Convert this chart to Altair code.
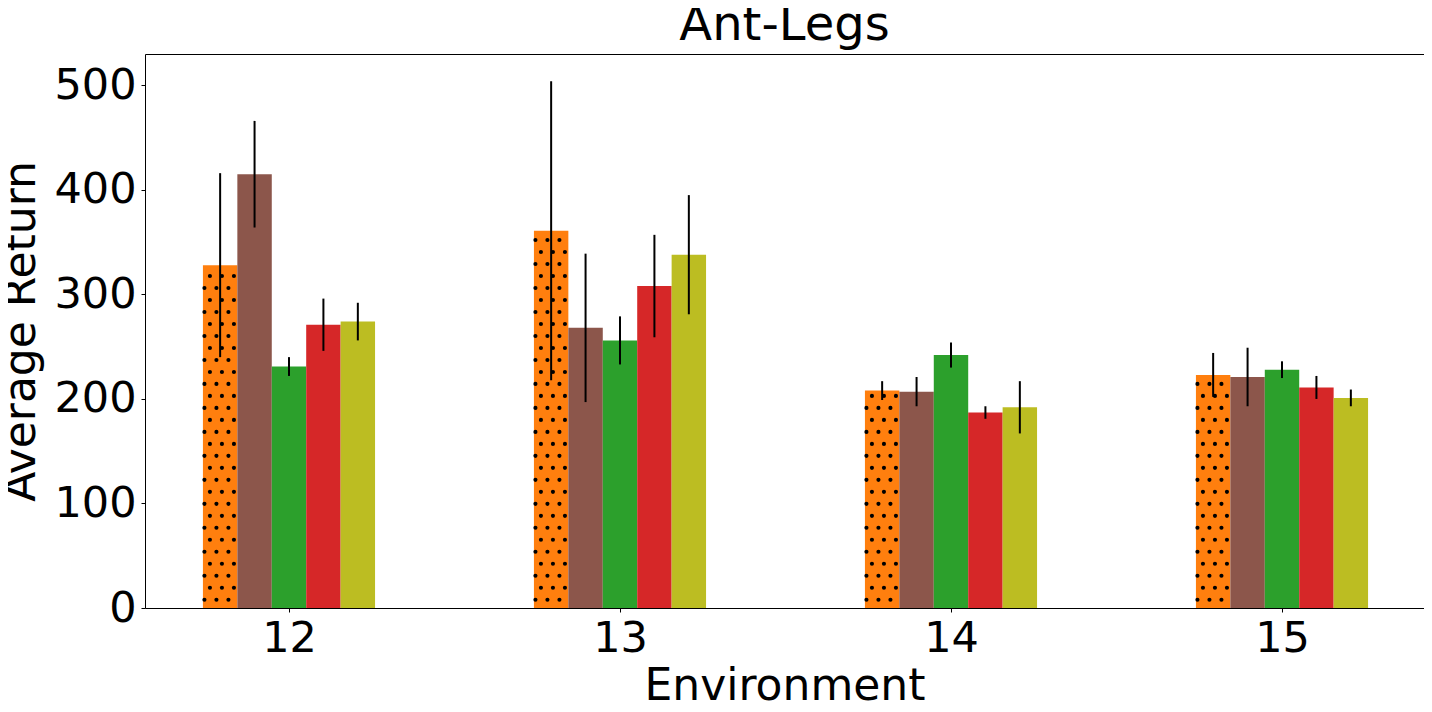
import altair as alt
import pandas as pd

envs = [12, 13, 14, 15]
methods = ["Method A", "Method B", "Method C", "Method D", "Method E"]
colors = ["#ff7f0e", "#8c564b", "#2ca02c", "#d62728", "#bcbd22"]

means = {
    "Method A": [328, 361, 208, 223],
    "Method B": [415, 268, 207, 221],
    "Method C": [231, 256, 242, 228],
    "Method D": [271, 308, 187, 211],
    "Method E": [274, 338, 192, 201],
}
errs = {
    "Method A": [88, 143, 9, 21],
    "Method B": [51, 71, 14, 28],
    "Method C": [9, 23, 12, 8],
    "Method D": [25, 49, 6, 11],
    "Method E": [18, 57, 25, 8],
}

rows = []
for i, m in enumerate(methods):
    for j, e in enumerate(envs):
        rows.append({"env": e, "method": m, "idx": i, "value": means[m][j], "err": errs[m][j]})
df = pd.DataFrame(rows)

BW = 0.104
base = alt.Chart(df).transform_calculate(
    xc=f"datum.env + (datum.idx - 2) * {BW}",
    x0=f"datum.env + (datum.idx - 2) * {BW} - {BW / 2}",
    x1=f"datum.env + (datum.idx - 2) * {BW} + {BW / 2}",
    lo="datum.value - datum.err",
    hi="datum.value + datum.err",
)

xscale = alt.Scale(domain=[11.565, 15.429], nice=False, zero=False)
yscale = alt.Scale(domain=[0, 530], nice=False)

xaxis = alt.Axis(values=envs, format="d", title="Environment", titlePadding=4)
yaxis = alt.Axis(values=[0, 100, 200, 300, 400, 500], title="Average Return", titlePadding=10)

bars = base.mark_bar().encode(
    x=alt.X("x0:Q", scale=xscale, axis=xaxis),
    x2="x1:Q",
    y=alt.Y("value:Q", scale=yscale, axis=yaxis),
    y2=alt.datum(0),
    color=alt.Color("method:N", scale=alt.Scale(domain=methods, range=colors), legend=None),
)

dots = base.transform_filter("datum.idx == 0").transform_calculate(
    r="sequence(0, 50)"
).transform_flatten(["r"]).transform_calculate(
    yd="7.9 + datum.r * 11.47"
).transform_filter("datum.yd < datum.value - 1").transform_calculate(
    c="sequence(0, 3)"
).transform_flatten(["c"]).transform_calculate(
    xd="datum.x0 + ((datum.r % 2 == 1 ? 7 : 1.5) + datum.c * 12) / 331"
).mark_circle(size=17, color="black", opacity=1).encode(
    x=alt.X("xd:Q", scale=xscale),
    y=alt.Y("yd:Q", scale=yscale),
)

errbars = base.mark_rule(color="black", strokeWidth=2).encode(
    x=alt.X("xc:Q", scale=xscale),
    y=alt.Y("lo:Q", scale=yscale),
    y2="hi:Q",
)

chart = alt.layer(bars, dots, errbars).properties(
    width=1279,
    height=554,
    autosize=alt.AutoSizeParams(type="none"),
    padding={"left": 137, "top": 46, "right": 0, "bottom": 95},
    title=alt.TitleParams("Ant-Legs", fontSize=48, font="DejaVu Sans", fontWeight="normal",
                          anchor="middle", offset=4, color="black"),
).configure_view(
    stroke="black", strokeWidth=1
).configure_axis(
    labelFont="DejaVu Sans", titleFont="DejaVu Sans",
    labelFontSize=43, titleFontSize=44, titleFontWeight="normal",
    labelColor="black", titleColor="black",
    tickSize=4, tickColor="black", tickWidth=1,
    labelPadding=5, domain=False, grid=False,
)

chart.save("out.html", embed_options={"renderer": "svg", "actions": False})
